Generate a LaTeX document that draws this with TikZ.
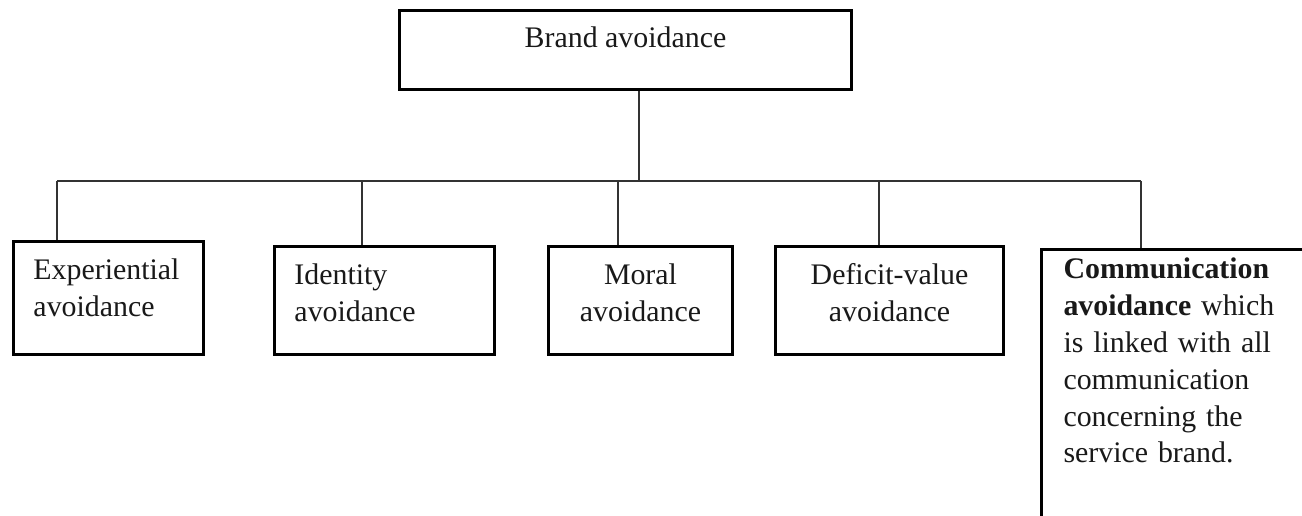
\documentclass[tikz,border=0pt]{standalone}
\usepackage{fontspec}
\setmainfont{Liberation Serif}
\usepackage{tikz}
\newdimen\pxu
\pxu=0.02cm

\begin{document}
\begin{tikzpicture}[x=0.02cm,y=-0.02cm,
box/.style={shape=rectangle,draw=black,line width=1.7pt,inner ysep=0pt,
    font=\fontsize{17}{21}\selectfont,text=black!90},
leafBox/.style={box,anchor=north west,align=left},
midBox/.style={box,anchor=north west,align=center},
link/.style={draw=black!80,line width=1pt}
]
\useasboundingbox (0,0) rectangle (1302,516);
\clip (0,0) rectangle (1302,516);
% top of the tree
\node[box,anchor=north west,minimum width=452\pxu,inner xsep=0pt,
    text height=37\pxu,text depth=42\pxu] (brand) at (398,9) {Brand avoidance};
% the five kinds
\node[leafBox,inner xsep=20\pxu,text width=150\pxu,text height=38\pxu,text depth=75\pxu]
    (exper) at (12,240) {Experiential\\avoidance};
\node[leafBox,inner xsep=20\pxu,text width=180\pxu,text height=38\pxu,text depth=70\pxu]
    (ident) at (273,245) {Identity\\avoidance};
\node[midBox,inner xsep=10\pxu,text width=164\pxu,text height=38\pxu,text depth=70\pxu]
    (moral) at (547,245) {Moral\\avoidance};
\node[midBox,inner xsep=10\pxu,text width=208\pxu,text height=38\pxu,text depth=70\pxu]
    (defic) at (774,245) {Deficit-value\\avoidance};
\node[leafBox,inner xsep=22\pxu,text width=250\pxu,text height=29\pxu,text depth=270\pxu]
    (comm) at (1040,248) {\textbf{Communication}\\\textbf{avoidance} which\\is linked with all\\
    communication\\concerning the\\service brand.};
% connectors
\coordinate (hub) at (639,181);
\coordinate (dExper) at (57,181);
\coordinate (dIdent) at (362,181);
\coordinate (dMoral) at (618,181);
\coordinate (dDefic) at (879,181);
\coordinate (dComm) at (1141,181);
\draw[link] (hub |- brand.south) -- (hub);
\draw[link] (dExper) -- (dComm);
\draw[link] (dExper) -- (dExper |- exper.north);
\draw[link] (dIdent) -- (dIdent |- ident.north);
\draw[link] (dMoral) -- (dMoral |- moral.north);
\draw[link] (dDefic) -- (dDefic |- defic.north);
\draw[link] (dComm) -- (dComm |- comm.north);
\end{tikzpicture}
\end{document}
